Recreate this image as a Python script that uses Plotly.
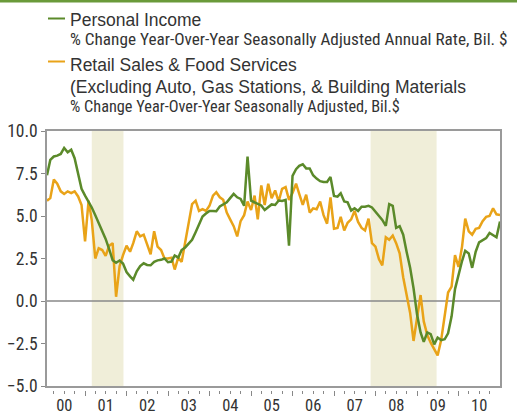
import pandas as pd
import plotly.graph_objects as go

# ---------------- data (monthly, Jan 2000 - Dec 2010) ----------------
start_month = "2000-01-01"
n_months = 132

personal_income = [
    7.4, 8.3, 8.5, 8.55, 8.65, 9.0, 8.75, 8.9, 8.4, 7.4, 6.6, 6.2,
    5.85, 5.5, 5.05, 4.6, 4.15, 3.65, 3.05, 2.4, 2.25, 2.38, 2.2, 1.7,
    1.45, 1.25, 1.75, 2.05, 2.22, 2.12, 2.1, 2.3, 2.39, 2.42, 2.5, 2.28,
    2.32, 2.68, 2.55, 3.0, 3.15, 3.35, 3.6, 4.05, 4.5, 4.97, 5.15, 5.3,
    5.3, 5.28, 5.56, 5.7, 5.8, 6.05, 6.3, 6.1, 6.0, 5.6, 8.5, 5.9,
    5.8, 5.72, 5.62, 5.35, 5.5, 5.68, 5.65, 5.91, 5.88, 5.95, 3.25, 7.36,
    7.75, 7.95, 8.04, 7.8, 7.8, 7.4, 7.2, 7.05, 7.0, 7.0, 7.3, 6.18,
    6.14, 6.34, 5.85, 5.8, 5.32, 5.46, 5.3, 5.55, 5.55, 5.6, 5.5, 5.25,
    4.95, 4.77, 4.42, 5.7, 5.6, 4.3, 4.4, 3.9, 2.9, 1.95, 0.75, -0.8,
    -1.85, -2.4, -1.85, -1.95, -2.55, -2.15, -2.3, -2.25, -1.9, -0.9, 0.7, 1.6,
    2.35, 2.95, 2.8, 1.95, 2.9, 3.45, 3.6, 3.7, 4.0, 3.87, 3.75, 4.68,
]

retail_sales = [
    5.9, 6.05, 7.15, 6.9, 6.45, 6.3, 6.45, 6.35, 6.45, 6.15, 5.65, 3.5,
    5.9, 4.75, 2.5, 3.1, 3.0, 2.65, 3.25, 3.4, 0.25, 2.05, 2.7, 3.25,
    2.9, 3.4, 4.1, 3.8, 3.9, 3.3, 2.75, 4.1, 3.2, 3.0, 2.5, 2.5,
    2.55, 1.85, 2.55, 2.3, 3.4, 4.6, 5.7, 5.9, 5.3, 5.4, 5.3, 5.6,
    6.2, 6.4, 6.1, 5.95, 5.2, 4.8, 4.4, 3.8, 4.7, 5.05, 5.85, 5.35,
    6.2, 4.8, 6.8, 5.65, 6.9, 6.05, 6.5, 5.85, 6.6, 6.7, 5.95, 6.35,
    6.9, 6.3, 5.65, 6.25, 5.2, 5.45, 5.4, 5.85, 5.05, 4.55, 6.1, 4.25,
    4.3, 4.95, 4.15, 4.6, 4.8, 5.3, 4.65, 4.3, 4.15, 4.85, 3.4, 3.2,
    2.45, 2.1, 3.75, 3.6, 3.85, 3.4, 2.8, 1.4, 0.3, -0.7, -2.35, -1.0,
    0.35, -1.2, -2.0, -2.45, -2.8, -3.2, -2.3, -1.0, 0.5, 0.85, 2.7, 2.0,
    3.2, 4.85, 4.1, 3.9, 4.25, 4.3, 4.7, 4.95, 5.0, 5.45, 5.1, 5.05,
]

year_labels = ["00", "01", "02", "03", "04", "05", "06", "07", "08", "09", "10"]
y_ticks = [-5.0, -2.5, 0.0, 2.5, 5.0, 7.5, 10.0]
recessions = [("2001-02-28", "2001-12-04"), ("2007-11-18", "2009-06-21")]

series_names = ["Personal Income",
                "Retail Sales & Food Services"]
series_notes = [["% Change Year-Over-Year Seasonally Adjusted Annual Rate, Bil. $"],
                ["(Excluding Auto, Gas Stations, & Building Materials",
                 "% Change Year-Over-Year Seasonally Adjusted, Bil.$"]]

# ---------------- derived ----------------
dates = pd.date_range(start_month, periods=n_months, freq="MS") + pd.offsets.MonthEnd(0)
years = list(range(2000, 2011))
quarter_ticks = []
quarter_text = []
for y, lab in zip(years, year_labels):
    for m in (4, 7, 10):
        quarter_ticks.append(pd.Timestamp(f"{y}-{m:02d}-01"))
        quarter_text.append(lab if m == 7 else "")
year_starts = [pd.Timestamp(f"{y}-01-01") for y in range(2001, 2012)]

GREEN = "#5b8a2a"
ORANGE = "#e9a318"
GRAY = "#9a9a9a"
TXT = "#333333"
SHADE = "#f0eed9"
HEAD_FONT = "Liberation Sans"
COND_FONT = "Roboto Condensed, Liberation Sans"

W, H = 517, 415
ML, MR, MT, MB = 47, 17, 131, 25
PW, PH = W - ML - MR, H - MT - MB


def px_x(px):
    return (px - ML) / PW


def px_y(py):
    return (H - MB - py) / PH


x_range = [dates[0], dates[-1]]

fig = go.Figure()
fig.add_trace(go.Scatter(x=dates, y=retail_sales, mode="lines",
                         line=dict(color=ORANGE, width=2.5), name=series_names[1],
                         hoverinfo="skip"))
fig.add_trace(go.Scatter(x=dates, y=personal_income, mode="lines",
                         line=dict(color=GREEN, width=2.5), name=series_names[0],
                         hoverinfo="skip"))
# invisible companion trace so the tick-only axis is drawn
fig.add_trace(go.Scatter(x=dates, y=personal_income, mode="lines", xaxis="x2",
                         line=dict(color="rgba(0,0,0,0)", width=0), showlegend=False,
                         hoverinfo="skip"))

for a, b in recessions:
    fig.add_shape(type="rect", xref="x", yref="paper", x0=a, x1=b,
                  y0=px_y(386), y1=1, fillcolor=SHADE, line_width=0, layer="below")

# zero line
fig.add_shape(type="line", xref="paper", yref="y", x0=0, x1=1, y0=0, y1=0,
              line=dict(color="#888888", width=1.5), layer="below")

# top green rule
fig.add_shape(type="line", xref="paper", yref="paper", x0=px_x(0), x1=px_x(W),
              y0=px_y(1), y1=px_y(1), line=dict(color="#6a9a3a", width=3))

# legend (dash + text lines)
legend_rows = [
    (GREEN, 18.5, [(series_names[0], 20, HEAD_FONT, 17.5),
                   (series_notes[0][0], 39.5, COND_FONT, 17.2)]),
    (ORANGE, 61.5, [(series_names[1], 65, HEAD_FONT, 17.5),
                    (series_notes[1][0], 86.5, HEAD_FONT, 17.5),
                    (series_notes[1][1], 107, COND_FONT, 16.3)]),
]
for color, dash_y, texts in legend_rows:
    fig.add_shape(type="line", xref="paper", yref="paper",
                  x0=px_x(48), x1=px_x(65), y0=px_y(dash_y), y1=px_y(dash_y),
                  line=dict(color=color, width=2))
    for txt, cy, fam, size in texts:
        fig.add_annotation(xref="paper", yref="paper", x=px_x(67.5), y=px_y(cy),
                           xanchor="left", yanchor="middle", text=txt, showarrow=False,
                           align="left", font=dict(family=fam, size=size, color=TXT))

fig.update_layout(
    template="none",
    width=W, height=H,
    margin=dict(l=ML, r=MR, t=MT, b=MB, pad=0, autoexpand=False),
    paper_bgcolor="white", plot_bgcolor="white",
    showlegend=False,
    xaxis=dict(type="date", range=x_range, domain=[0, 1], anchor="y", automargin=False,
               showgrid=False, zeroline=False, showticklabels=False, ticks="",
               showline=True, linecolor=GRAY, linewidth=1.5, mirror=True),
    xaxis2=dict(type="date", range=x_range, domain=[0, 1], overlaying="x",
                anchor="free", position=0, side="bottom", automargin=False,
                showgrid=False, zeroline=False, showline=False,
                tickmode="array", tickvals=quarter_ticks, ticktext=quarter_text,
                ticks="outside", ticklen=3, tickwidth=1, tickcolor="#888888",
                ticklabelstandoff=-3,
                tickfont=dict(family=COND_FONT, size=16.5, color=TXT),
                minor=dict(tickmode="array", tickvals=year_starts, ticks="outside",
                           ticklen=5, tickwidth=1, tickcolor="#888888")),
    yaxis=dict(range=[-5, 10], domain=[px_y(386), 1], anchor="x", automargin=False,
               tickmode="array", tickvals=y_ticks, tickformat=".1f",
               ticks="outside", ticklen=4, tickwidth=1, tickcolor="#888888",
               tickfont=dict(family=COND_FONT, size=17.5, color=TXT),
               showgrid=False, zeroline=False,
               showline=True, linecolor=GRAY, linewidth=1.5, mirror=True),
)

fig.write_html("out.html", config={"displayModeBar": False},
               post_script="document.body.style.margin='0';")
